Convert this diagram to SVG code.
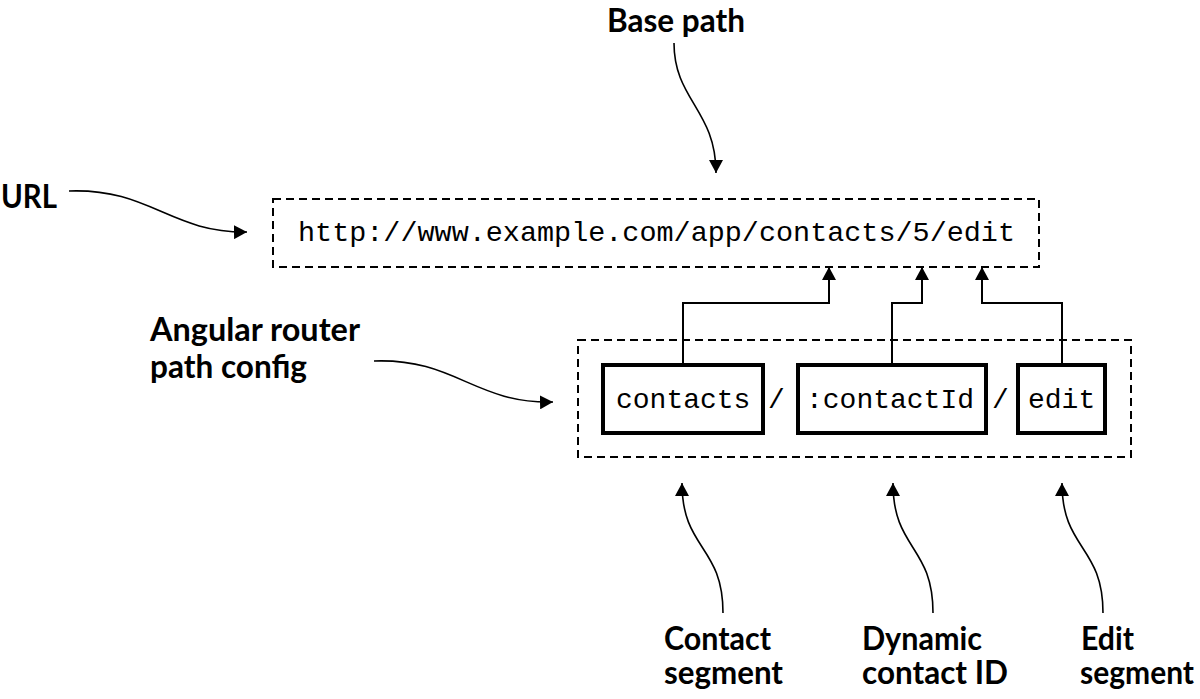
<svg xmlns="http://www.w3.org/2000/svg" width="1200" height="699" viewBox="0 0 1200 699">
<defs>
<style>
.lbl{font-family:Lato,"Liberation Sans",sans-serif;font-weight:700;font-size:32px;fill:#000}
.mono{font-family:"Liberation Mono","DejaVu Sans Mono",monospace;font-size:28px;fill:#000}
.dash{fill:none;stroke:#000;stroke-width:2;stroke-dasharray:8 5}
.box{fill:#fff;stroke:#000;stroke-width:4}
.conn{fill:none;stroke:#000;stroke-width:2}
.curve{fill:none;stroke:#000;stroke-width:1.6}
</style>
<marker id="ah" markerUnits="userSpaceOnUse" markerWidth="14" markerHeight="14" refX="13" refY="7" orient="auto">
<path d="M0,0 L13,7 L0,14 z" fill="#000"/>
</marker>
</defs>
<rect width="1200" height="699" fill="#fff"/>
<g id="url-box">
<rect class="dash" x="273" y="199" width="766" height="68"/>
<text class="mono" x="298" y="241" textLength="717" lengthAdjust="spacingAndGlyphs">http://www.example.com/app/contacts/5/edit</text>
</g>
<g id="path-config">
<rect class="dash" x="578" y="340" width="553" height="117"/>
<text class="mono" x="768" y="408">/</text>
<text class="mono" x="992" y="408">/</text>
</g>
<g id="seg-contacts">
<rect class="box" x="603" y="365" width="160" height="68"/>
<text class="mono" x="616" y="408">contacts</text>
</g>
<g id="seg-contactId">
<rect class="box" x="798" y="365" width="188" height="68"/>
<text class="mono" x="806" y="408">:contactId</text>
</g>
<g id="seg-edit">
<rect class="box" x="1018" y="365" width="87" height="68"/>
<text class="mono" x="1028" y="408">edit</text>
</g>
<g id="labels">
<text class="lbl" x="607" y="32" textLength="138" lengthAdjust="spacingAndGlyphs">Base path</text>
<text class="lbl" x="1" y="208" textLength="56" lengthAdjust="spacingAndGlyphs">URL</text>
<text class="lbl" x="150" y="341" textLength="210" lengthAdjust="spacingAndGlyphs">Angular router</text>
<text class="lbl" x="150" y="378" textLength="157" lengthAdjust="spacingAndGlyphs">path config</text>
<text class="lbl" x="664" y="650" textLength="107" lengthAdjust="spacingAndGlyphs">Contact</text>
<text class="lbl" x="664" y="684" textLength="119" lengthAdjust="spacingAndGlyphs">segment</text>
<text class="lbl" x="862" y="650" textLength="120" lengthAdjust="spacingAndGlyphs">Dynamic</text>
<text class="lbl" x="862" y="684" textLength="146" lengthAdjust="spacingAndGlyphs">contact ID</text>
<text class="lbl" x="1081" y="650" textLength="53" lengthAdjust="spacingAndGlyphs">Edit</text>
<text class="lbl" x="1080" y="684" textLength="114" lengthAdjust="spacingAndGlyphs">segment</text>
</g>
<g id="connectors">
<path class="conn" marker-end="url(#ah)" d="M683,365 V303 H829 V267"/>
<path class="conn" marker-end="url(#ah)" d="M892,365 V303 H922 V267"/>
<path class="conn" marker-end="url(#ah)" d="M1062,365 V303 H982 V267"/>
<path class="curve" marker-end="url(#ah)" d="M69,191 C150,188 170,233 247,232"/>
<path class="curve" marker-end="url(#ah)" d="M674,43 C674,100 716,110 716,173"/>
<path class="curve" marker-end="url(#ah)" d="M374,361 C455,358 475,404 553,402"/>
<path class="curve" marker-end="url(#ah)" d="M723,613 C723,545 682,550 682,483"/>
<path class="curve" marker-end="url(#ah)" d="M933,613 C933,545 893,550 893,483"/>
<path class="curve" marker-end="url(#ah)" d="M1103,613 C1103,545 1062,550 1062,483"/>
</g>
</svg>
